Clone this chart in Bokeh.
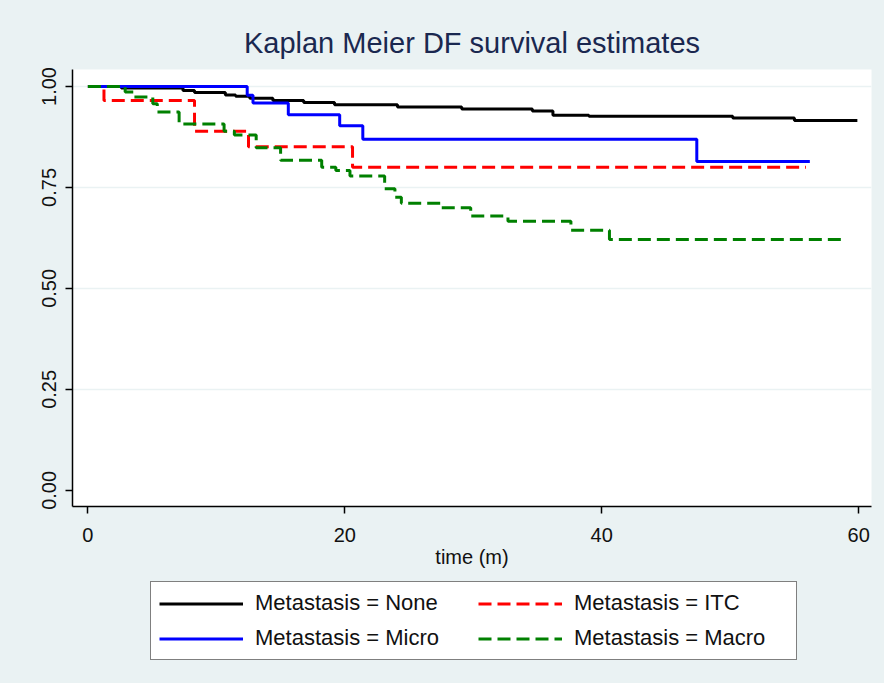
from bokeh.plotting import figure
from bokeh.models import Legend, LegendItem, FixedTicker, Range1d
from bokeh.layouts import column
from bokeh.embed import file_html
from bokeh.resources import INLINE

# ---- data ----
title_text = "Kaplan Meier DF survival estimates"
x_label = "time (m)"
x_ticks = [0, 20, 40, 60]
y_ticks = [0.0, 0.25, 0.5, 0.75, 1.0]
y_tick_labels = ["0.00", "0.25", "0.50", "0.75", "1.00"]
grid_ticks = [0.25, 0.5, 0.75, 1.0]

series_names = ["Metastasis = None", "Metastasis = ITC", "Metastasis = Micro", "Metastasis = Macro"]

none_t = [0, 2.6, 7.4, 8.3, 10.7, 11.5, 12.6, 14.4, 16.8, 19.2, 24.1, 29.1, 34.6, 36.2, 39.0, 50.2, 55.0, 59.9]
none_s = [1.0, 0.996, 0.990, 0.985, 0.979, 0.976, 0.971, 0.965, 0.960, 0.955, 0.949, 0.944, 0.939, 0.929, 0.926, 0.922, 0.916, 0.916]

micro_t = [0, 12.4, 12.85, 15.6, 19.6, 21.4, 47.4, 56.2]
micro_s = [1.0, 0.978, 0.959, 0.930, 0.903, 0.869, 0.814, 0.814]

itc_t = [0, 1.25, 8.3, 12.5, 20.6, 55.9]
itc_s = [1.0, 0.965, 0.889, 0.851, 0.800, 0.800]

macro_t = [0, 2.9, 3.6, 5.05, 5.4, 7.1, 10.6, 11.4, 13.1, 15.0, 18.2, 19.3, 20.4, 23.1, 23.9, 24.4,
           27.5, 29.8, 32.7, 37.6, 40.6, 59.0]
macro_s = [1.0, 0.986, 0.974, 0.957, 0.937, 0.907, 0.889, 0.880, 0.848, 0.817, 0.800, 0.792, 0.778, 0.747,
           0.726, 0.711, 0.700, 0.679, 0.666, 0.644, 0.621, 0.621]

series_t = [none_t, itc_t, micro_t, macro_t]
series_s = [none_s, itc_s, micro_s, macro_s]

# ---- styles ----
BG = "#EAF2F3"
FONT = "Liberation Sans"
TXT = "#111111"
styles = [
    dict(line_color="black", line_width=3),
    dict(line_color="#ff0000", line_width=3, line_dash="13 6"),
    dict(line_color="#0000ff", line_width=3),
    dict(line_color="#008000", line_width=3, line_dash="13 6"),
]

p = figure(width=884, height=580, output_backend="svg", toolbar_location=None,
           x_range=Range1d(-1.2, 61.0), y_range=Range1d(-0.04, 1.042),
           min_border_left=72, min_border_right=13, min_border_top=69, min_border_bottom=74,
           title=title_text)

p.background_fill_color = "white"
p.border_fill_color = BG
p.outline_line_color = None

p.title.align = "center"
p.title.text_font = FONT
p.title.text_font_size = "29px"
p.title.text_font_style = "normal"
p.title.text_color = "#1a2850"
p.title.standoff = 21

# axes
xa = p.xaxis[0]
xa.ticker = FixedTicker(ticks=x_ticks)
xa.axis_label = x_label
xa.axis_label_text_font = FONT
xa.axis_label_text_font_size = "20px"
xa.axis_label_text_font_style = "normal"
xa.axis_label_text_color = TXT
xa.axis_label_standoff = 1
xa.major_label_text_font = FONT
xa.major_label_text_font_size = "20px"
xa.major_label_text_color = TXT
xa.major_label_standoff = 14
xa.major_tick_out = 7
xa.major_tick_in = 0
xa.minor_tick_out = 0
xa.minor_tick_in = 0
xa.axis_line_width = 1.5
xa.major_tick_line_width = 1.5
xa.axis_line_color = "black"

ya = p.yaxis[0]
ya.ticker = FixedTicker(ticks=y_ticks)
ya.major_label_overrides = {t: lab for t, lab in zip(y_ticks, y_tick_labels)}
ya.major_label_orientation = "vertical"
ya.major_label_text_font = FONT
ya.major_label_text_font_size = "20px"
ya.major_label_text_color = TXT
ya.major_label_standoff = 9
ya.major_tick_out = 7
ya.major_tick_in = 0
ya.minor_tick_out = 0
ya.minor_tick_in = 0
ya.axis_line_width = 1.5
ya.major_tick_line_width = 1.5
ya.axis_line_color = "black"

p.xgrid.grid_line_color = None
p.ygrid.ticker = FixedTicker(ticks=grid_ticks)
p.ygrid.grid_line_color = BG
p.ygrid.grid_line_width = 1.5

# curves (Kaplan-Meier step functions)
for t, s, st in zip(series_t, series_s, styles):
    p.step(t, s, mode="after", **st)

# ---- legend strip below the plot (same side borders as the main plot) ----
lg = figure(width=884, height=103, output_backend="svg", toolbar_location=None,
            x_axis_location=None, y_axis_location=None,
            x_range=Range1d(-1.2, 61.0), y_range=Range1d(5, 6),
            min_border_left=72, min_border_right=13, min_border_top=0, min_border_bottom=0)
lg.background_fill_color = BG
lg.border_fill_color = BG
lg.outline_line_color = None
lg.grid.grid_line_color = None

# key renderers: first point of each series (a single point draws no visible line)
keys = [lg.line(x=[t[0]], y=[s[0]], **st) for t, s, st in zip(series_t, series_s, styles)]

legend = Legend(
    items=[LegendItem(label=name, renderers=[r]) for name, r in zip(series_names, keys)],
    orientation="horizontal", ncols=2,
    location=(78, 23),
    margin=0, padding=8, spacing=9,
    glyph_width=84, glyph_height=21, label_height=21, label_width=214, label_standoff=12,
    label_text_font=FONT, label_text_font_size="22px", label_text_color=TXT,
    border_line_color="black", border_line_width=1.5,
    background_fill_color="white", background_fill_alpha=1.0,
)
lg.add_layout(legend)

page = column(p, lg, spacing=0, styles={"background-color": BG})
open("out.html", "w").write(file_html(page, INLINE))
